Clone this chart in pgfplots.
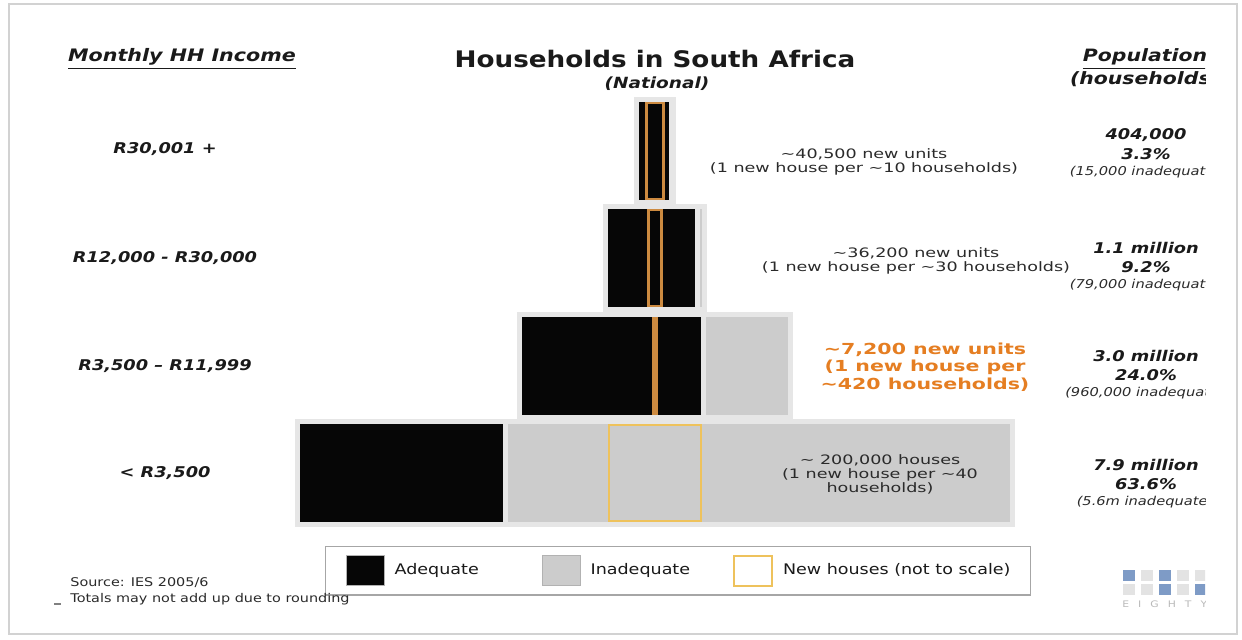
\documentclass[border=0pt]{standalone}
\usepackage{fontspec}
\setmainfont{DejaVu Sans}[FakeStretch=1.2]
\newfontfamily\annfont{DejaVu Sans}[FakeStretch=1.35]
\newfontfamily\titlefont{DejaVu Sans}[FakeStretch=1.15]
\usepackage{pgfplots}
\pgfplotsset{compat=1.18}
\usepackage{pgfplotstable}

\definecolor{adeq}{HTML}{060606}
\definecolor{inadeq}{HTML}{CCCCCC}
\definecolor{backd}{HTML}{E6E6E6}
\definecolor{newtan}{HTML}{CC8A40}
\definecolor{newgold}{HTML}{EEC25C}
\definecolor{orangetxt}{HTML}{E57E22}
\definecolor{txt}{HTML}{1A1A1A}
\definecolor{anntxt}{HTML}{2A2A2A}
\definecolor{logoblue}{HTML}{7E9BC6}
\definecolor{logogrey}{HTML}{E3E3E3}

% rows: 0 = < R3,500, 1 = R3,500-R11,999, 2 = R12,000-R30,000, 3 = R30,001 +
% values in millions of households; offset = -total/2 centres each bar
\pgfplotstableread{
row offset adequate inadequate
0 -3.95 2.30 5.60
1 -1.50 2.04 0.96
2 -0.55 1.021 0.079
3 -0.202 0.389 0.015
}\households

% new houses boxes (not to scale), centred
\pgfplotstableread{
row offset box
1 -0.016 0.032
2 -0.072 0.144
3 -0.094 0.188
}\newhouses
\pgfplotstableread{
row offset box
0 -0.508 1.016
}\newhousesbig

\pgfplotsset{overlay/.style={at={(0,0)}, anchor=south west, scale only axis,
  width=621pt, height=320pt, xmin=-7.2296, xmax=6.479, ymin=-1.556, ymax=4.407,
  axis line style={draw=none}, major tick length=0pt, xtick=\empty, ytick=\empty, clip=false}}

\begin{document}
\begin{tikzpicture}
\useasboundingbox (0,0) rectangle (621pt,320pt);

\begin{axis}[overlay, xbar stacked, stack negative=on previous, bar width=51.5pt,
  ytick={0,1,2,3},
  yticklabels={{< R3,500},{R3,500 – R11,999},{R12,000 - R30,000},{\raisebox{3pt}{R30,001 +}}},
  yticklabel style={anchor=center, xshift=82.5pt, font=\bfseries\itshape\fontsize{7.4}{9}\selectfont, text=txt}]
\addplot[draw=none, fill=none] table[x=offset, y=row] {\households};
\addplot[fill=adeq, draw=backd, line width=2.5pt] table[x=adequate, y=row] {\households};
\addplot[fill=inadeq, draw=backd, line width=2.5pt] table[x=inadequate, y=row] {\households};
\end{axis}

\begin{axis}[overlay, xbar stacked, stack negative=on previous, bar width=48pt]
\addplot[draw=none, fill=none] table[x=offset, y=row] {\newhouses};
\addplot[draw=newtan, fill=none, line width=1.1pt] table[x=box, y=row] {\newhouses};
\end{axis}

\begin{axis}[overlay, xbar stacked, stack negative=on previous, bar width=48pt]
\addplot[draw=none, fill=none] table[x=offset, y=row] {\newhousesbig};
\addplot[draw=newgold, fill=none, line width=1pt] table[x=box, y=row] {\newhousesbig};
\end{axis}

\begin{axis}[overlay, 
  legend columns=3, legend cell align=left,
  legend style={at={(0.26167,0.14688)}, anchor=north west, draw=gray!70, line width=0.6pt,
    inner xsep=10pt, inner ysep=4pt, font=\fontsize{7.3}{9}\selectfont, text=txt,
    nodes={inner sep=0pt},
    /tikz/every odd column/.append style={column sep=5pt}}]
\addlegendimage{legend image code/.code={\draw[fill=adeq,draw=gray!60,line width=0.5pt] (0pt,-7.5pt) rectangle (19pt,7.5pt);}}
\addlegendentry{\makebox[73.5pt][l]{Adequate}}
\addlegendimage{legend image code/.code={\draw[fill=inadeq,draw=gray!60,line width=0.5pt] (0pt,-7.5pt) rectangle (19pt,7.5pt);}}
\addlegendentry{\makebox[71pt][l]{Inadequate}}
\addlegendimage{legend image code/.code={\draw[fill=white,draw=newgold,line width=1.2pt] (0pt,-7.5pt) rectangle (19pt,7.5pt);}}
\addlegendentry{New houses (not to scale)}
\end{axis}

\begin{scope}[x=0.5pt, y=-0.5pt, shift={(0pt,320pt)}]
% frame
\draw[gray!35, line width=0.8pt] (9,4) -- (9,634) -- (1237,634) -- (1237,4) -- cycle;

\node[anchor=base, text=txt, font=\titlefont\bfseries\fontsize{11.4}{13}\selectfont] at (655,68) {Households in South Africa};
\node[anchor=base, text=txt, font=\bfseries\itshape\fontsize{7.7}{9}\selectfont] at (657,89) {(National)};
\node[anchor=base, text=txt, font=\bfseries\itshape\fontsize{8.6}{10}\selectfont] at (182,62) {\underline{Monthly HH Income}};

% middle annotations
\node[align=center, text=anntxt, font=\annfont\fontsize{6.5}{7}\selectfont] at (864,162)
  {\textasciitilde40,500 new units\\(1 new house per \textasciitilde10 households)};
\node[align=center, text=anntxt, font=\annfont\fontsize{6.5}{7}\selectfont] at (916,261)
  {\textasciitilde36,200 new units\\(1 new house per \textasciitilde30 households)};
\node[align=center, text=orangetxt, font=\annfont\bfseries\fontsize{7.6}{8.75}\selectfont] at (925,367)
  {\textasciitilde7,200 new units\\(1 new house per\\\textasciitilde420 households)};
\node[align=center, text=anntxt, font=\annfont\fontsize{6.5}{7}\selectfont] at (880,474)
  {\textasciitilde{} 200,000 houses\\(1 new house per \textasciitilde40\\households)};

% source
\node[anchor=west, text=anntxt, font=\fontsize{6}{7}\selectfont, inner sep=0pt] at (70,583) {Source: IES 2005/6};
\node[anchor=west, text=anntxt, font=\fontsize{6}{7}\selectfont, inner sep=0pt] at (70,599) {Totals may not add up due to rounding};
\draw[gray, line width=0.6pt] (54,604) -- (61,604);

\begin{scope}
\clip (0,0) rectangle (1205,640);
\node[anchor=base, text=txt, font=\bfseries\itshape\fontsize{8.5}{10}\selectfont] at (1145,62) {\underline{Population}};
\node[anchor=base, text=txt, font=\bfseries\itshape\fontsize{8.5}{10}\selectfont] at (1145,85) {(households)};
\foreach \y/\a/\b/\c in {135/404{,}000/3.3\%/(15{,}000 inadequate),
                        248/1.1 million/9.2\%/(79{,}000 inadequate),
                        356/3.0 million/24.0\%/(960{,}000 inadequate),
                        465/7.9 million/63.6\%/(5.6m inadequate)}{
  \node[text=txt, font=\bfseries\itshape\fontsize{7.4}{9}\selectfont] at (1146,\y) {\a};
  \node[text=txt, font=\bfseries\itshape\fontsize{7.4}{9}\selectfont] at (1146,\y+19) {\b};
  \node[text=anntxt, font=\itshape\fontsize{6.1}{7}\selectfont] at (1145,\y+37) {\c};
}
% logo
\foreach \x/\c in {1123/logoblue,1141/logogrey,1159/logoblue,1177/logogrey,1195/logogrey}
  \fill[\c] (\x,570) rectangle ++(12,11);
\foreach \x/\c in {1123/logogrey,1141/logogrey,1159/logoblue,1177/logogrey,1195/logoblue}
  \fill[\c] (\x,584) rectangle ++(12,11);
\node[anchor=west, text=gray!55, font=\fontsize{4.5}{5}\selectfont, inner sep=0pt] at (1122,604)
  {E\hspace{4.5pt}I\hspace{4.5pt}G\hspace{4.5pt}H\hspace{4.5pt}T\hspace{4.5pt}Y};
\end{scope}
\end{scope}
\end{tikzpicture}
\end{document}
